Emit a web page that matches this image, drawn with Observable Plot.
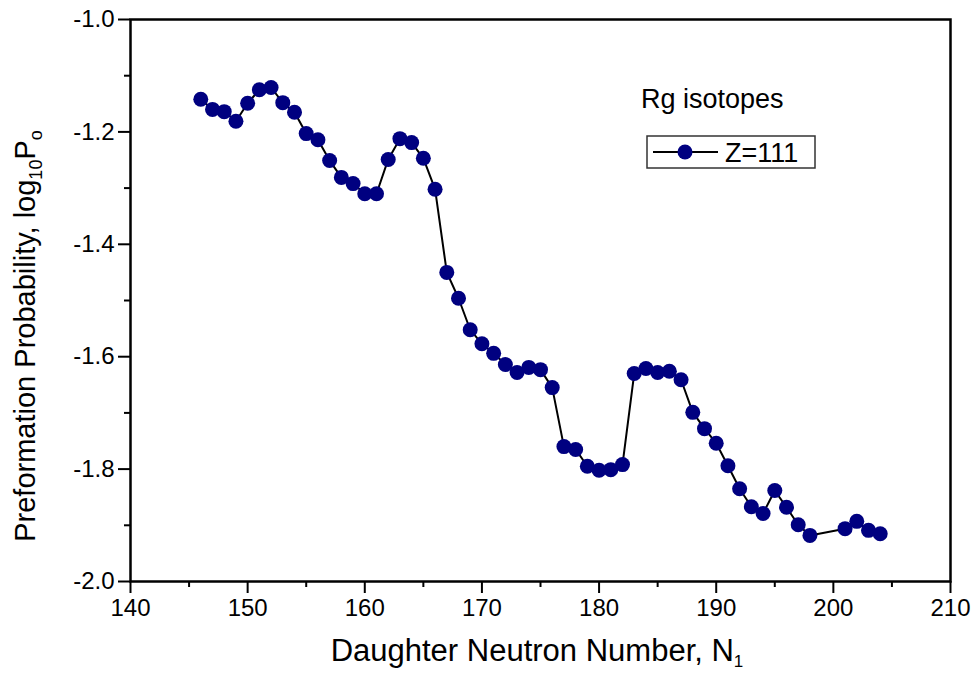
<!DOCTYPE html>
<html>
<head>
<meta charset="utf-8">
<script src="https://cdn.jsdelivr.net/npm/d3@7"></script>
<script src="https://cdn.jsdelivr.net/npm/@observablehq/plot@0.6"></script>
<style>
  body { margin: 0; background: #fff; }
  #chart svg { font-family: Arial, "Liberation Sans", sans-serif; }
</style>
</head>
<body>
<div id="chart"></div>
<script>
// Daughter neutron number N1 and preformation probability log10(P0) for Rg (Z=111)
const neutronNumber = [
  146, 147, 148, 149, 150, 151, 152, 153, 154, 155,
  156, 157, 158, 159, 160, 161, 162, 163, 164, 165,
  166, 167, 168, 169, 170, 171, 172, 173, 174, 175,
  176, 177, 178, 179, 180, 181, 182, 183, 184, 185,
  186, 187, 188, 189, 190, 191, 192, 193, 194, 195,
  196, 197, 198, 201, 202, 203, 204
];
const log10P0 = [
  -1.142, -1.160, -1.164, -1.181, -1.149, -1.125, -1.121, -1.148, -1.165, -1.203,
  -1.214, -1.251, -1.281, -1.292, -1.310, -1.310, -1.249, -1.212, -1.219, -1.247,
  -1.302, -1.450, -1.496, -1.552, -1.577, -1.594, -1.614, -1.628, -1.619, -1.623,
  -1.655, -1.760, -1.765, -1.795, -1.802, -1.801, -1.792, -1.630, -1.621, -1.628,
  -1.626, -1.641, -1.699, -1.728, -1.754, -1.794, -1.835, -1.867, -1.879, -1.838,
  -1.868, -1.899, -1.918, -1.906, -1.893, -1.909, -1.915
];

const xTicks = [140, 150, 160, 170, 180, 190, 200, 210];
const xMinorTicks = [145, 155, 165, 175, 185, 195, 205];
const yTicks = [-2.0, -1.8, -1.6, -1.4, -1.2, -1.0];
const yMinorTicks = [-1.9, -1.7, -1.5, -1.3, -1.1];

const seriesName = "Z=111";
const groupTitle = "Rg isotopes";
const pointColor = "#000080";

const rows = neutronNumber.map((n, i) => ({ n, p: log10P0[i] }));

const chart = Plot.plot({
  width: 976,
  height: 675,
  marginLeft: 130,
  marginRight: 26,
  marginTop: 19,
  marginBottom: 94,
  style: { background: "#fff", color: "#000", fontSize: "24px",
    fontFamily: "Arial, 'Liberation Sans', sans-serif" },
  x: { domain: [140, 210] },
  y: { domain: [-2.0, -1.0] },
  marks: [
    // major and minor ticks, outward
    Plot.axisX({ ticks: xTicks, tickSize: 12, tickPadding: 5, strokeWidth: 2,
      tickFormat: d => String(d), fontSize: 24, label: null }),
    Plot.axisX({ ticks: xMinorTicks, tickSize: 6, strokeWidth: 2, text: null, label: null }),
    Plot.axisY({ ticks: yTicks, tickSize: 12, tickPadding: 4, strokeWidth: 2,
      tickFormat: d => d.toFixed(1), fontSize: 24, label: null }),
    Plot.axisY({ ticks: yMinorTicks, tickSize: 6, strokeWidth: 2, text: null, label: null }),
    Plot.frame({ stroke: "#000", strokeWidth: 2.5 }),
    Plot.line(rows, { x: "n", y: "p", stroke: "#000", strokeWidth: 2 }),
    Plot.dot(rows, { x: "n", y: "p", r: 7.5, fill: pointColor, stroke: "none" })
  ]
});

document.getElementById("chart").appendChild(chart);

const svg = d3.select(chart);
const font = "Arial, 'Liberation Sans', sans-serif";

// tick label size
svg.selectAll("g[aria-label$='tick label']").style("font-size", "24px")
  .selectAll("text").style("font-size", "24px");

// x-axis title with subscript
const xt = svg.append("text")
  .attr("x", 537).attr("y", 661)
  .attr("text-anchor", "middle")
  .attr("font-family", font).attr("font-size", 31).attr("fill", "#000");
xt.append("tspan").text("Daughter Neutron Number, N");
xt.append("tspan").attr("font-size", 17).attr("dy", 6).text("1");

// y-axis title with subscripts
const yt = svg.append("text")
  .attr("transform", "translate(35,336) rotate(-90)")
  .attr("text-anchor", "middle")
  .attr("font-family", font).attr("font-size", 29).attr("fill", "#000");
yt.append("tspan").text("Preformation Probability, log");
yt.append("tspan").attr("font-size", 18).attr("dy", 7).text("10");
yt.append("tspan").attr("dy", -7).text("P");
yt.append("tspan").attr("font-size", 18).attr("dy", 7).text("o");

// legend
const lg = svg.append("g").attr("text-anchor", "start");
lg.append("text")
  .attr("x", 641).attr("y", 108)
  .attr("font-family", font).attr("font-size", 27).attr("fill", "#000")
  .text(groupTitle);
lg.append("rect")
  .attr("x", 647).attr("y", 136).attr("width", 168).attr("height", 32)
  .attr("fill", "none").attr("stroke", "#333").attr("stroke-width", 1.5);
lg.append("line")
  .attr("x1", 653).attr("x2", 718).attr("y1", 152).attr("y2", 152)
  .attr("stroke", "#000").attr("stroke-width", 2);
lg.append("circle")
  .attr("cx", 685).attr("cy", 152).attr("r", 7.5).attr("fill", pointColor);
lg.append("text")
  .attr("x", 725).attr("y", 162)
  .attr("font-family", font).attr("font-size", 27).attr("fill", "#000")
  .text(seriesName);
</script>
</body>
</html>
